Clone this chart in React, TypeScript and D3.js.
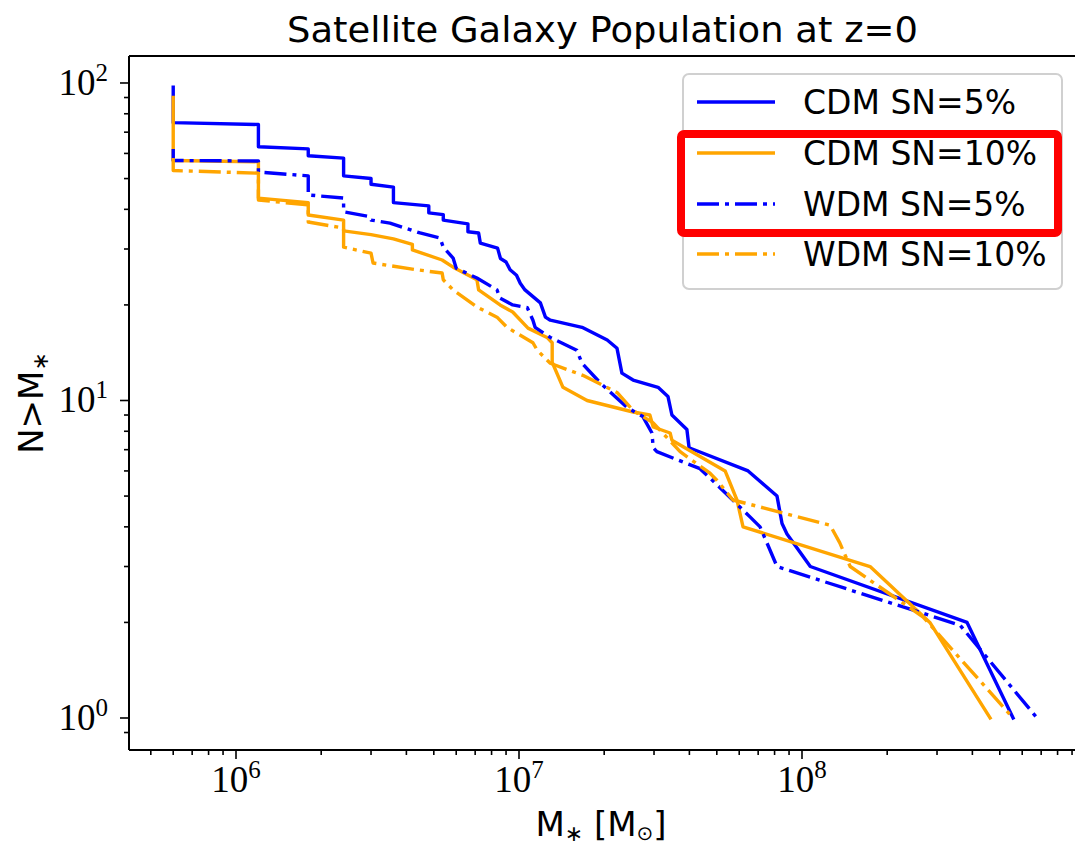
import React from "react";
import * as d3 from "d3";

// ---------------- data ----------------
const seriesNames = ["CDM SN=5%", "CDM SN=10%", "WDM SN=5%", "WDM SN=10%"];

const cdm5Mass = [6.0e5, 6.0e5, 1.2e6, 1.2e6, 1.8e6, 1.8e6, 2.4e6, 2.4e6, 3.0e6, 3.0e6, 3.6e6, 3.6e6, 4.8e6, 4.8e6, 5.4e6, 5.4e6, 6.6e6, 6.6e6, 7.2e6, 7.3e6, 8.4e6, 8.6e6, 9.0e6, 9.3e6, 9.8e6, 1.01e7, 1.05e7, 1.19e7, 1.24e7, 1.29e7, 1.67e7, 2.05e7, 2.22e7, 2.31e7, 2.53e7, 3.10e7, 3.36e7, 3.47e7, 3.92e7, 3.99e7, 6.45e7, 8.16e7, 8.50e7, 8.85e7, 1.07e8, 3.83e8, 5.57e8];
const cdm5N = [97, 75, 74, 63, 62, 59, 58, 51, 50, 48, 47, 42, 41, 39, 38.5, 37, 36, 34, 33.7, 31.3, 30.2, 28, 27.3, 25.8, 24.8, 23.4, 22.3, 20.3, 18.3, 17.9, 17, 15.5, 14.6, 12.2, 11.6, 11, 10.3, 9, 8.1, 7.1, 6, 5, 4.1, 3.8, 3, 2, 1];

const cdm10Mass = [6.0e5, 6.0e5, 1.2e6, 1.2e6, 1.8e6, 1.8e6, 2.4e6, 2.4e6, 3.0e6, 3.6e6, 4.2e6, 4.2e6, 5.35e6, 5.85e6, 7.1e6, 7.2e6, 8.57e6, 9.5e6, 1.076e7, 1.256e7, 1.31e7, 1.31e7, 1.43e7, 1.74e7, 2.53e7, 2.9e7, 2.98e7, 3.42e7, 3.47e7, 5.35e7, 5.89e7, 6.19e7, 1.74e8, 2.83e8, 4.62e8];
const cdm10N = [90, 57, 56.5, 43.4, 42, 38.4, 37, 34.2, 33.3, 32.3, 31, 29.8, 27.7, 26.3, 24, 22.3, 20, 19, 16.9, 15.8, 15.2, 13.2, 11, 10, 9.2, 9, 8.25, 7.9, 7.5, 6, 4.86, 4, 3, 2, 1];

const wdm5Mass = [6.0e5, 6.0e5, 1.2e6, 1.2e6, 1.8e6, 1.8e6, 2.4e6, 2.4e6, 2.95e6, 3.0e6, 3.5e6, 4.47e6, 5.26e6, 5.4e6, 5.85e6, 6.0e6, 7.1e6, 8.36e6, 8.57e6, 9.5e6, 1.07e7, 1.12e7, 1.14e7, 1.29e7, 1.60e7, 1.67e7, 1.93e7, 2.41e7, 2.74e7, 2.95e7, 2.98e7, 3.07e7, 4.36e7, 4.73e7, 6.55e7, 7.11e7, 8.16e7, 3.62e8, 6.77e8];
const wdm5N = [62, 57, 56.8, 52.4, 51, 44.4, 43.4, 39.3, 38, 37, 36.2, 33.7, 32.5, 30.4, 28.1, 26.1, 24.3, 22.3, 21, 20, 19.6, 17.9, 17, 15.8, 14.4, 13.1, 11.4, 9.5, 8.9, 7.9, 7.1, 6.9, 6.1, 5.7, 4.3, 4, 3, 1.96, 1];

const wdm10Mass = [6.0e5, 6.0e5, 1.2e6, 1.2e6, 1.8e6, 1.8e6, 2.4e6, 2.4e6, 3.0e6, 3.05e6, 4.36e6, 5.35e6, 5.4e6, 5.85e6, 7.1e6, 8.36e6, 9.07e6, 1.12e7, 1.16e7, 1.29e7, 1.68e7, 2.22e7, 2.53e7, 2.98e7, 3.71e7, 4.73e7, 5.01e7, 5.70e7, 1.256e8, 1.36e8, 1.48e8, 2.68e8, 5.57e8];
const wdm10N = [58, 53, 52, 42.8, 41.3, 36.5, 34.9, 30.4, 29.1, 27.1, 25.8, 25.2, 24, 22.3, 19.7, 18.3, 17, 15.2, 14.4, 13.1, 12, 10.6, 9.3, 8.5, 6.9, 5.9, 5.6, 4.86, 4.05, 3.56, 3, 2.08, 1];

const xMajorExps = [6, 7, 8];
const yMajorExps = [0, 1, 2];

// ---------------- layout ----------------
const W = 1075;
const H = 847;
const LEFT = 129;
const RIGHT = 1085;
const TOP = 56;
const BOTTOM = 750;

const BLUE = "#0000ff";
const ORANGE = "#ffa500";
const LW = 3.4;
const DASHDOT = "22,6,4,6";

const SANS = "'DejaVu Sans', 'Open Sans', sans-serif";
const SERIF = "'Liberation Serif', 'DejaVu Serif', serif";

export default function App() {
  const x = d3.scaleLog().domain([Math.pow(10, 5.6219), 1e9]).range([LEFT, RIGHT]);
  const y = d3.scaleLog().domain([Math.pow(10, -0.1008), Math.pow(10, 2.085)]).range([BOTTOM, TOP]);

  const line = d3
    .line<[number, number]>()
    .x((d) => x(d[0]))
    .y((d) => y(d[1]));

  const zip = (m: number[], n: number[]) => m.map((v, i) => [v, n[i]] as [number, number]);

  const series = [
    { name: seriesNames[0], pts: zip(cdm5Mass, cdm5N), color: BLUE, dash: undefined as string | undefined },
    { name: seriesNames[1], pts: zip(cdm10Mass, cdm10N), color: ORANGE, dash: undefined as string | undefined },
    { name: seriesNames[2], pts: zip(wdm5Mass, wdm5N), color: BLUE, dash: DASHDOT },
    { name: seriesNames[3], pts: zip(wdm10Mass, wdm10N), color: ORANGE, dash: DASHDOT },
  ];

  const [x0, x1] = x.domain();
  const [y0, y1] = y.domain();
  const xMinor: number[] = [];
  for (let e = 5; e <= 8; e++) for (let k = 2; k <= 9; k++) {
    const v = k * Math.pow(10, e);
    if (v >= x0 && v <= x1) xMinor.push(v);
  }
  const yMinor: number[] = [];
  for (let e = -1; e <= 2; e++) for (let k = 2; k <= 9; k++) {
    const v = k * Math.pow(10, e);
    if (v > y0 * 1.01 && v <= y1) yMinor.push(v);
  }

  const legendX = 683;
  const legendY = 74;
  const legendW = 379;
  const legendH = 215;
  const rowY = [102, 153, 204, 254];

  return (
    <svg
      width={W}
      height={H}
      style={{ position: "absolute", left: 0, top: 0, background: "#fff" }}
      xmlns="http://www.w3.org/2000/svg"
    >
      <defs>
        <clipPath id="plotClip">
          <rect x={LEFT} y={TOP} width={RIGHT - LEFT} height={BOTTOM - TOP} />
        </clipPath>
      </defs>
      <rect x={0} y={0} width={W} height={H} fill="#fff" />

      {/* title */}
      <text
        x={287}
        y={42}
        fontFamily={SANS}
        fontSize={35}
        textLength={631}
        lengthAdjust="spacingAndGlyphs"
        fill="#000"
      >
        Satellite Galaxy Population at z=0
      </text>

      {/* data lines */}
      <g clipPath="url(#plotClip)">
        {series.map((s, i) => (
          <path
            key={i}
            d={line(s.pts) || ""}
            fill="none"
            stroke={s.color}
            strokeWidth={LW}
            strokeDasharray={s.dash}
            strokeLinejoin="round"
            strokeLinecap={s.dash ? "butt" : "square"}
          />
        ))}
      </g>

      {/* spines */}
      <g stroke="#000" strokeWidth={2} fill="none">
        <line x1={LEFT} y1={TOP} x2={LEFT} y2={BOTTOM} />
        <line x1={LEFT} y1={BOTTOM} x2={RIGHT} y2={BOTTOM} />
        <line x1={LEFT} y1={TOP} x2={RIGHT} y2={TOP} />
        <line x1={RIGHT} y1={TOP} x2={RIGHT} y2={BOTTOM} />
      </g>

      {/* ticks */}
      <g stroke="#000" strokeWidth={1.6}>
        {xMajorExps.map((e) => (
          <line key={"xm" + e} x1={x(Math.pow(10, e))} x2={x(Math.pow(10, e))} y1={BOTTOM} y2={BOTTOM + 9} />
        ))}
        {xMinor.map((v, i) => (
          <line key={"xn" + i} x1={x(v)} x2={x(v)} y1={BOTTOM} y2={BOTTOM + 5} />
        ))}
        {yMajorExps.map((e) => (
          <line key={"ym" + e} x1={LEFT - 9} x2={LEFT} y1={y(Math.pow(10, e))} y2={y(Math.pow(10, e))} />
        ))}
        {yMinor.map((v, i) => (
          <line key={"yn" + i} x1={LEFT - 5} x2={LEFT} y1={y(v)} y2={y(v)} />
        ))}
      </g>

      {/* x tick labels */}
      {xMajorExps.map((e) => (
        <text
          key={"xl" + e}
          x={x(Math.pow(10, e))}
          y={792}
          textAnchor="middle"
          fontFamily={SERIF}
          fontSize={37}
          fill="#000"
        >
          10
          <tspan fontSize={25} dy={-14}>
            {e}
          </tspan>
        </text>
      ))}

      {/* y tick labels */}
      {yMajorExps.map((e) => (
        <text
          key={"yl" + e}
          x={108}
          y={y(Math.pow(10, e)) + 12}
          textAnchor="end"
          fontFamily={SERIF}
          fontSize={37}
          fill="#000"
        >
          10
          <tspan fontSize={25} dy={-14}>
            {e}
          </tspan>
        </text>
      ))}

      {/* axis labels */}
      <text x={601} y={836} textAnchor="middle" fontFamily={SANS} fontSize={34} fill="#000">
        M
        <tspan fontSize={22} dy={5}>∗</tspan>
        <tspan dy={-5}> [M</tspan>
        <tspan fontSize={20} dy={4}>⊙</tspan>
        <tspan dy={-4}>]</tspan>
      </text>
      <text
        transform={`translate(43, ${(TOP + BOTTOM) / 2}) rotate(-90)`}
        textAnchor="middle"
        fontFamily={SANS}
        fontSize={34}
        fill="#000"
      >
        N&gt;M
        <tspan fontSize={22} dy={5}>∗</tspan>
      </text>

      {/* legend */}
      <rect
        x={legendX}
        y={legendY}
        width={legendW}
        height={legendH}
        rx={6}
        fill="#fff"
        fillOpacity={0.8}
        stroke="#d0d0d0"
        strokeWidth={2}
      />
      {series.map((s, i) => (
        <g key={"lg" + i}>
          <line
            x1={697}
            x2={775}
            y1={rowY[i]}
            y2={rowY[i]}
            stroke={s.color}
            strokeWidth={LW}
            strokeDasharray={s.dash}
            strokeLinecap="butt"
          />
          <text x={803} y={rowY[i] + 12} fontFamily={SANS} fontSize={33} fill="#000">
            {s.name}
          </text>
        </g>
      ))}

      {/* red highlight box */}
      <rect x={681} y={134} width={377} height={99} rx={3} fill="none" stroke="#ff0000" strokeWidth={8} />
    </svg>
  );
}
